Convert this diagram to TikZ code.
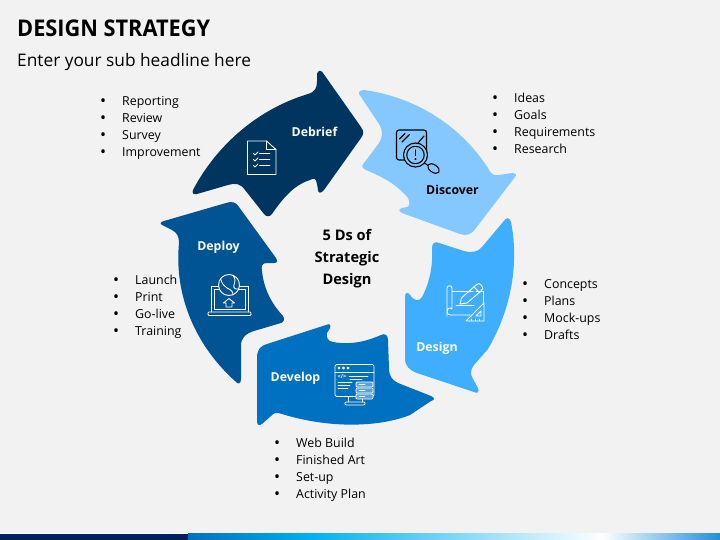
\documentclass[tikz,border=0pt]{standalone}
\usepackage{fontspec}
\setmainfont{Open Sans}
\newfontfamily\titlefont[FakeStretch=0.945]{Open Sans}
\definecolor{pagebg}{HTML}{F2F2F2}
\definecolor{cDebrief}{HTML}{00355F}
\definecolor{cDeploy}{HTML}{005493}
\definecolor{cDevelop}{HTML}{0070C0}
\definecolor{cDesign}{HTML}{40AEFF}
\definecolor{cDiscover}{HTML}{84C8FF}
\definecolor{barnavy}{HTML}{002060}
\definecolor{barblue}{HTML}{0070C0}
\definecolor{barsky}{HTML}{00B0F0}
\definecolor{barend}{HTML}{1E90DC}
\newcommand{\Itm}[1]{\strut\makebox[20pt][l]{\hspace{-2pt}\fontsize{16}{17}\selectfont\raisebox{-0.7pt}{\textbullet}}#1}
\tikzset{
  listbox/.style={anchor=north west,inner sep=0pt,align=left,font=\fontsize{12.4}{17}\selectfont},
  seglabel/.style={inner sep=0pt,font=\fontsize{12.3}{15}\selectfont\bfseries},
  iconw/.style={draw=white,line width=0.9pt,line join=round,line cap=round},
  iconk/.style={draw=black,line width=1.1pt,line join=round,line cap=round},
}
\begin{document}
\begin{tikzpicture}[x=1pt,y=-1pt]
\useasboundingbox (0,0) rectangle (720,540);
\fill[pagebg] (0,0) rectangle (720,540);
% bottom bar
\fill[white] (0,532.5) rectangle (390,533.5);
\fill[white] (695,532.5) rectangle (720,533.5);
\fill[barnavy] (0,533.5) rectangle (188,540);
\shade[left color=barblue,right color=barsky] (188,533.5) rectangle (310,540);
\shade[left color=barsky,right color=white] (309.5,533.5) rectangle (602,540);
\shade[left color=white,right color=barend] (601.5,533.5) rectangle (720,540);
% title
\node[anchor=base west,inner sep=0pt,font=\fontsize{23}{27}\selectfont\titlefont\bfseries] (title) at (17,36.8) {DESIGN STRATEGY};
\node[anchor=base west,inner sep=0pt,font=\fontsize{17.3}{21}\selectfont] (sub) at (17,66.8) {Enter your sub headline here};
% Debrief arrow
\fill[cDebrief] (193,190)
  .. controls (215,148) and (255,110) .. (308,94)
  .. controls (315,92) and (317,88) .. (317,81)
  -- (317,74) .. controls (318,70) and (321,70) .. (323,73)
  -- (361,127) .. controls (364,131) and (364,134) .. (361,138)
  -- (324,190) .. controls (321,194) and (318,193) .. (318,190)
  -- (317,184) .. controls (316,178) and (314,178) .. (310,180)
  .. controls (294,185) and (283,198) .. (272,214)
  .. controls (270,217) and (266,217) .. (264,214)
  -- (245,190) .. controls (240,183) and (235,183) .. (228,185)
  -- (197,194) .. controls (193,195) and (192,193) .. (193,190) -- cycle;
% Discover arrow
\fill[cDiscover] (361,97)
  .. controls (357,93) and (359,90) .. (364,90)
  .. controls (415,97) and (460,125) .. (488,168)
  .. controls (491,174) and (493,176) .. (499,175)
  -- (512,173) .. controls (516,173) and (517,175) .. (515,177)
  -- (476,228) .. controls (471,235) and (467,236) .. (460,234)
  -- (402,213) .. controls (398,211) and (399,209) .. (402,208)
  -- (407,207) .. controls (410,206) and (410,202) .. (408,198)
  .. controls (397,185) and (385,178) .. (366,170)
  .. controls (362,168) and (361,166) .. (364,163)
  -- (379,143) .. controls (383,137) and (383,131) .. (379,124) -- cycle;
% Design arrow
\fill[cDesign] (503,222)
  .. controls (506,217) and (510,217) .. (511,222)
  .. controls (519,262) and (512,308) .. (488,349)
  -- (474,365) .. controls (471,369) and (470,373) .. (472,377)
  -- (478,388) .. controls (480,392) and (477,394) .. (474,392)
  -- (417,373) .. controls (409,370) and (405,366) .. (405,358)
  -- (405,297) .. controls (405,292) and (408,292) .. (410,295)
  .. controls (414,301) and (419,302) .. (422,297)
  .. controls (430,282) and (433,265) .. (432,248)
  .. controls (432,243) and (435,241) .. (439,243)
  -- (464,251) .. controls (472,253) and (478,252) .. (482,247) -- cycle;
% Develop arrow
\fill[cDevelop] (262,424)
  .. controls (259,426) and (257,425) .. (257,421)
  -- (257,358) .. controls (257,350) and (260,346) .. (267,344)
  -- (326,325) .. controls (330,323) and (331,325) .. (330,328)
  -- (327,333) .. controls (326,338) and (328,341) .. (333,342)
  .. controls (350,345) and (365,342) .. (381,335)
  .. controls (385,333) and (388,335) .. (388,340)
  -- (389,368) .. controls (389,376) and (392,380) .. (398,383)
  -- (431,396) .. controls (435,398) and (435,400) .. (431,401)
  -- (410,415) .. controls (380,427) and (330,429) .. (282,414)
  .. controls (277,412) and (273,413) .. (271,416) -- cycle;
% Deploy arrow
\fill[cDeploy] (164,226)
  .. controls (159,224) and (160,222) .. (164,221)
  -- (226,203) .. controls (232,201) and (236,202) .. (239,207)
  -- (276,258) .. controls (278,261) and (277,263) .. (274,263)
  -- (267,263) .. controls (262,263) and (261,266) .. (262,271)
  .. controls (264,290) and (272,304) .. (283,316)
  .. controls (285,319) and (284,322) .. (281,323)
  -- (254,331) .. controls (245,334) and (241,338) .. (241,346)
  -- (241,379) .. controls (241,384) and (238,385) .. (235,381)
  .. controls (195,345) and (174,295) .. (179,243)
  .. controls (179,236) and (177,233) .. (172,230) -- cycle;
% Debrief icon
\draw[iconw] (247.5,141) -- (266.5,141) -- (276,149.5) -- (276,174.5) -- (247.5,174.5) -- cycle;
\draw[iconw] (266.5,141) -- (266.5,149.5) -- (276,149.5);
\foreach \yy in {153.5,159.5,165.5}{
  \draw[iconw] (259.5,\yy) -- (270,\yy);
  \draw[iconw] (253.5,\yy) -- (255,\yy+1.5) -- (258,\yy-1.5);
}
% Discover icon
\draw[iconk,rounded corners=2.5pt] (396.5,130) rectangle (426.5,160);
\draw[iconk] (399.5,139) -- (405,133.5) (402,142) -- (409.5,134.5) (418,143) -- (424,136);
\fill[cDiscover] (415.5,155) circle (12);
\draw[iconk] (415.5,155) circle (12) (415.5,155) circle (8.7);
\draw[iconk,line width=1.3pt] (415.5,150) -- (415.5,155.5);
\fill (415.5,159) circle (1.1);
\draw[iconk] (424.5,163) -- (428,165.5);
\draw[iconk,rotate around={-35:(433.5,168.5)}] (433.5,168.5) ellipse (6.5 and 3.8);
% Design icon
\draw[iconw] (447,316) -- (447,288) .. controls (447,285) and (452,285) .. (452,288) -- (452,309) .. controls (450,307) and (447,308) .. (447,312);
\draw[iconw] (447,312) .. controls (447,314) and (449,315) .. (451,315) -- (470,315);
\draw[iconw] (452,291) -- (473,291) (476,291) -- (483,291) -- (483,303);
\draw[iconw] (456,305) -- (474,305);
\draw[iconw] (460,304) -- (461.5,298) -- (476,285) .. controls (478,283) and (480,283) .. (481,285) -- (482,286) .. controls (483,288) and (483,289) .. (481,291) -- (467,303) -- cycle;
\draw[iconw] (474,287) -- (480,293);
\draw[iconw] (466,321) -- (484,303) -- (484,321) -- cycle;
\draw[iconw] (476,316) -- (481,311) -- (481,316) -- cycle;
\draw[iconw,line width=.6pt] (471,321) -- (471,319) (475,321) -- (475,319) (479,321) -- (479,319);
% Develop icon
\draw[iconw,rounded corners=1.5pt] (335,364.5) rectangle (374,396.5);
\draw[iconw] (335,372) -- (374,372);
\foreach \xx in {339,343.5,348}{\draw[iconw,line width=.8pt] (\xx,368) circle (1);}
\node[inner sep=0pt,text=white,font=\fontsize{5.5}{6}\selectfont\bfseries] (codetag) at (342,377) {</>};
\draw[iconw,line width=.7pt] (349,376.5) -- (368,376.5) (350,379) -- (362,379) (338,382) -- (352,382) (338,385) -- (350,385) (338,388) -- (348,388);
\draw[iconw] (348,396.5) -- (348,402) (362,396.5) -- (362,402);
\draw[iconw,rounded corners=1pt] (345,402) rectangle (365,405);
\foreach \yy in {382,388,394}{
  \draw[iconw,fill=cDevelop!65!white,line width=.8pt,rounded corners=1pt] (356,\yy) rectangle (373,\yy+5);
  \draw[iconw,line width=.6pt] (359,\yy+2.5) -- (365,\yy+2.5);
}
% Deploy icon
\draw[iconw] (211,312) -- (211,286) -- (248,286) -- (248,312);
\draw[iconw] (214,309) -- (214,289) -- (245,289) -- (245,309) -- cycle;
\draw[iconw,rounded corners=1pt] (208,312) rectangle (251,315.5);
\fill[cDeploy] (229,285) circle (10.5);
\draw[iconw] (229,285) circle (10.5);
\draw[iconw] (220.7,279) .. controls (222,284) and (224,286) .. (227,288) .. controls (231,290) and (233,291) .. (233,295);
\draw[iconw] (233,275.5) .. controls (236,279) and (235,282) .. (234,285) .. controls (233,288) and (235,289.5) .. (239,289);
\draw[iconw] (229,298.5) -- (234.5,303) -- (232,303) -- (232,307) -- (226,307) -- (226,303) -- (223.5,303) -- cycle;
% segment labels
\node[seglabel,text=white] (lDebrief) at (314.5,132) {Debrief};
\node[seglabel,text=black] (lDiscover) at (452.5,190) {Discover};
\node[seglabel,text=white] (lDesign) at (437,348) {Design};
\node[seglabel,text=white] (lDevelop) at (295.5,378) {Develop};
\node[seglabel,text=white] (lDeploy) at (218.5,247) {Deploy};
% centre
\node[inner sep=0pt,align=center,font=\fontsize{14.6}{22}\selectfont\bfseries] (centre) at (347,258.5) {5 Ds of\\Strategic\\Design};
% lists
\node[listbox] (a) at (102,93.5) {\Itm{Reporting}\\\Itm{Review}\\\Itm{Survey}\\\Itm{Improvement}};
\node[listbox] (b) at (494,90.5) {\Itm{Ideas}\\\Itm{Goals}\\\Itm{Requirements}\\\Itm{Research}};
\node[listbox] (c) at (524,276.5) {\Itm{Concepts}\\\Itm{Plans}\\\Itm{Mock-ups}\\\Itm{Drafts}};
\node[listbox] (d) at (276,435.5) {\Itm{Web Build}\\\Itm{Finished Art}\\\Itm{Set-up}\\\Itm{Activity Plan}};
\node[listbox] (e) at (115,272.5) {\Itm{Launch}\\\Itm{Print}\\\Itm{Go-live}\\\Itm{Training}};
\end{tikzpicture}
\end{document}
